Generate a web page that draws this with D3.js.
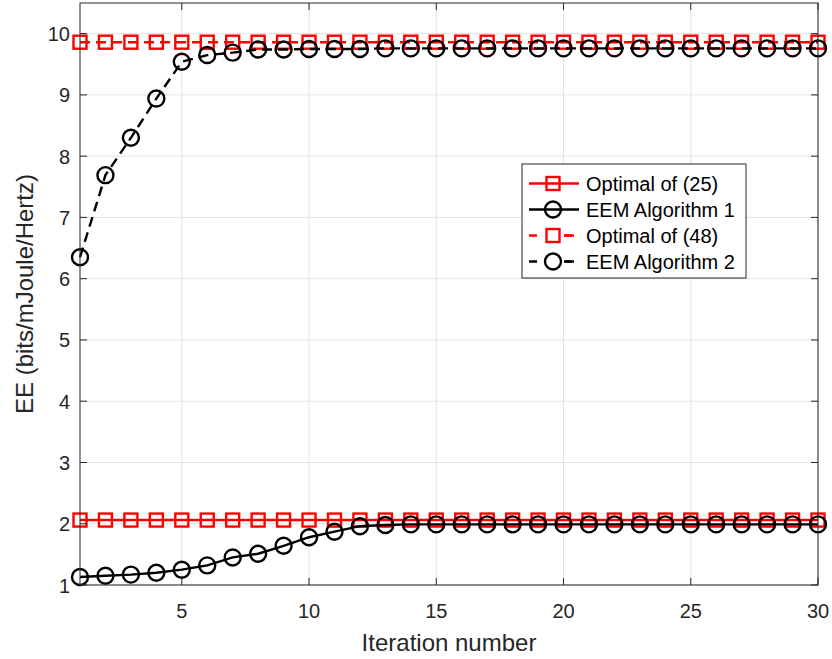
<!DOCTYPE html>
<html>
<head>
<meta charset="utf-8">
<script src="https://cdn.jsdelivr.net/npm/d3@7"></script>
<style>
  body { margin: 0; background: #fff; }
  svg { display: block; font-family: "Liberation Sans", Arial, Helvetica, sans-serif; }
</style>
</head>
<body>
<div id="chart"></div>
<script>
const iterations = d3.range(1, 31);

const optimal25 = iterations.map(() => 2.06);
const eemAlg1 = [1.13, 1.15, 1.17, 1.20, 1.25, 1.32, 1.45, 1.51, 1.64, 1.78,
  1.87, 1.96, 1.98, 1.99, 1.99, 1.99, 1.99, 1.99, 1.99, 1.99,
  1.99, 1.99, 1.99, 1.99, 1.99, 1.99, 1.99, 1.99, 1.99, 1.99];
const optimal48 = iterations.map(() => 9.86);
const eemAlg2 = [6.35, 7.69, 8.30, 8.94, 9.54, 9.65, 9.69, 9.74, 9.74, 9.75,
  9.75, 9.75, 9.76, 9.76, 9.76, 9.76, 9.76, 9.76, 9.76, 9.76,
  9.76, 9.76, 9.76, 9.76, 9.76, 9.76, 9.76, 9.76, 9.76, 9.76];

const xTicks = [5, 10, 15, 20, 25, 30];
const yTicks = [1, 2, 3, 4, 5, 6, 7, 8, 9, 10];

const seriesNames = ['Optimal of (25)', 'EEM Algorithm 1', 'Optimal of (48)', 'EEM Algorithm 2'];

const options = { width: 832, height: 659 };
const margin = { left: 80, right: 14, top: 3, bottom: 74 };
const axisColor = '#262626';
const lw = 2.4;

const series = [
  { name: seriesNames[0], values: optimal25, color: '#ff0000', marker: 'square', dash: null },
  { name: seriesNames[1], values: eemAlg1, color: '#000000', marker: 'circle', dash: null },
  { name: seriesNames[2], values: optimal48, color: '#ff0000', marker: 'square', dash: '10,6' },
  { name: seriesNames[3], values: eemAlg2, color: '#000000', marker: 'circle', dash: '10,6' },
];

const svg = d3.select('#chart')
  .append('svg')
  .attr('width', options.width)
  .attr('height', options.height);

const x = d3.scaleLinear()
  .domain([1, 30])
  .range([margin.left, options.width - margin.right]);

const y = d3.scaleLinear()
  .domain([1, 10.5])
  .range([options.height - margin.bottom, margin.top]);

const [x0, x1] = x.range();
const [y0, y1] = y.range();

// grid
const grid = svg.append('g').attr('stroke', '#e3e3e3').attr('stroke-width', 1);
grid.selectAll('.vg')
  .data(xTicks)
  .enter()
  .append('line')
  .attr('x1', d => x(d)).attr('x2', d => x(d))
  .attr('y1', y1).attr('y2', y0);
grid.selectAll('.hg')
  .data(yTicks)
  .enter()
  .append('line')
  .attr('y1', d => y(d)).attr('y2', d => y(d))
  .attr('x1', x0).attr('x2', x1);

// series
const line = d3.line()
  .x((d, i) => x(iterations[i]))
  .y(d => y(d));

series.forEach(s => {
  const g = svg.append('g');
  g.append('path')
    .attr('d', line(s.values))
    .attr('fill', 'none')
    .attr('stroke', s.color)
    .attr('stroke-width', lw)
    .attr('stroke-dasharray', s.dash);
  if (s.marker === 'square') {
    g.selectAll('rect')
      .data(s.values)
      .enter()
      .append('rect')
      .attr('x', (d, i) => x(iterations[i]) - 6.5)
      .attr('y', d => y(d) - 6.5)
      .attr('width', 13)
      .attr('height', 13)
      .attr('fill', 'none')
      .attr('stroke', s.color)
      .attr('stroke-width', lw);
  } else {
    g.selectAll('circle')
      .data(s.values)
      .enter()
      .append('circle')
      .attr('cx', (d, i) => x(iterations[i]))
      .attr('cy', d => y(d))
      .attr('r', 8)
      .attr('fill', 'none')
      .attr('stroke', s.color)
      .attr('stroke-width', lw);
  }
});

// axes box and ticks
const axes = svg.append('g').attr('stroke', axisColor).attr('stroke-width', 1);
axes.append('rect')
  .attr('x', x0).attr('y', y1)
  .attr('width', x1 - x0).attr('height', y0 - y1)
  .attr('fill', 'none');
const tickLen = 7;
xTicks.forEach(t => {
  axes.append('line').attr('x1', x(t)).attr('x2', x(t)).attr('y1', y0).attr('y2', y0 - tickLen);
  axes.append('line').attr('x1', x(t)).attr('x2', x(t)).attr('y1', y1).attr('y2', y1 + tickLen);
});
yTicks.forEach(t => {
  axes.append('line').attr('y1', y(t)).attr('y2', y(t)).attr('x1', x0).attr('x2', x0 + tickLen);
  axes.append('line').attr('y1', y(t)).attr('y2', y(t)).attr('x1', x1).attr('x2', x1 - tickLen);
});

svg.append('g')
  .selectAll('text')
  .data(xTicks)
  .enter()
  .append('text')
  .attr('x', d => x(d))
  .attr('y', y0 + 33)
  .attr('text-anchor', 'middle')
  .attr('font-size', 20)
  .attr('fill', axisColor)
  .text(d => d);

svg.append('g')
  .selectAll('text')
  .data(yTicks)
  .enter()
  .append('text')
  .attr('x', x0 - 10)
  .attr('y', d => y(d) + 7.5)
  .attr('text-anchor', 'end')
  .attr('font-size', 20)
  .attr('fill', axisColor)
  .text(d => d);

svg.append('text')
  .attr('x', (x0 + x1) / 2)
  .attr('y', 651)
  .attr('text-anchor', 'middle')
  .attr('font-size', 24)
  .attr('fill', axisColor)
  .text('Iteration number');

svg.append('text')
  .attr('transform', `translate(33, ${(y0 + y1) / 2}) rotate(-90)`)
  .attr('text-anchor', 'middle')
  .attr('font-size', 24)
  .attr('fill', axisColor)
  .text('EE (bits/mJoule/Hertz)');

// legend
const legend = svg.append('g').attr('transform', 'translate(522,164)');
legend.append('rect')
  .attr('width', 224).attr('height', 114)
  .attr('fill', '#fff')
  .attr('stroke', axisColor)
  .attr('stroke-width', 1);

const rows = legend.selectAll('.row')
  .data(series)
  .enter()
  .append('g')
  .attr('transform', (d, i) => `translate(0, ${19.5 + i * 26})`);

rows.append('line')
  .attr('x1', 7).attr('x2', 57)
  .attr('stroke', d => d.color)
  .attr('stroke-width', lw)
  .attr('stroke-dasharray', d => d.dash ? '8,27' : null);
rows.filter(d => d.dash)
  .append('line')
  .attr('x1', 43).attr('x2', 52)
  .attr('stroke', d => d.color)
  .attr('stroke-width', lw);
rows.filter(d => d.marker === 'square')
  .append('rect')
  .attr('x', 24.5).attr('y', -6.5).attr('width', 13).attr('height', 13)
  .attr('fill', 'none')
  .attr('stroke', d => d.color)
  .attr('stroke-width', lw);
rows.filter(d => d.marker === 'circle')
  .append('circle')
  .attr('cx', 31).attr('r', 8)
  .attr('fill', 'none')
  .attr('stroke', d => d.color)
  .attr('stroke-width', lw);
rows.append('text')
  .attr('x', 64)
  .attr('y', 7)
  .attr('font-size', 20)
  .attr('fill', '#000')
  .text(d => d.name);
</script>
</body>
</html>
